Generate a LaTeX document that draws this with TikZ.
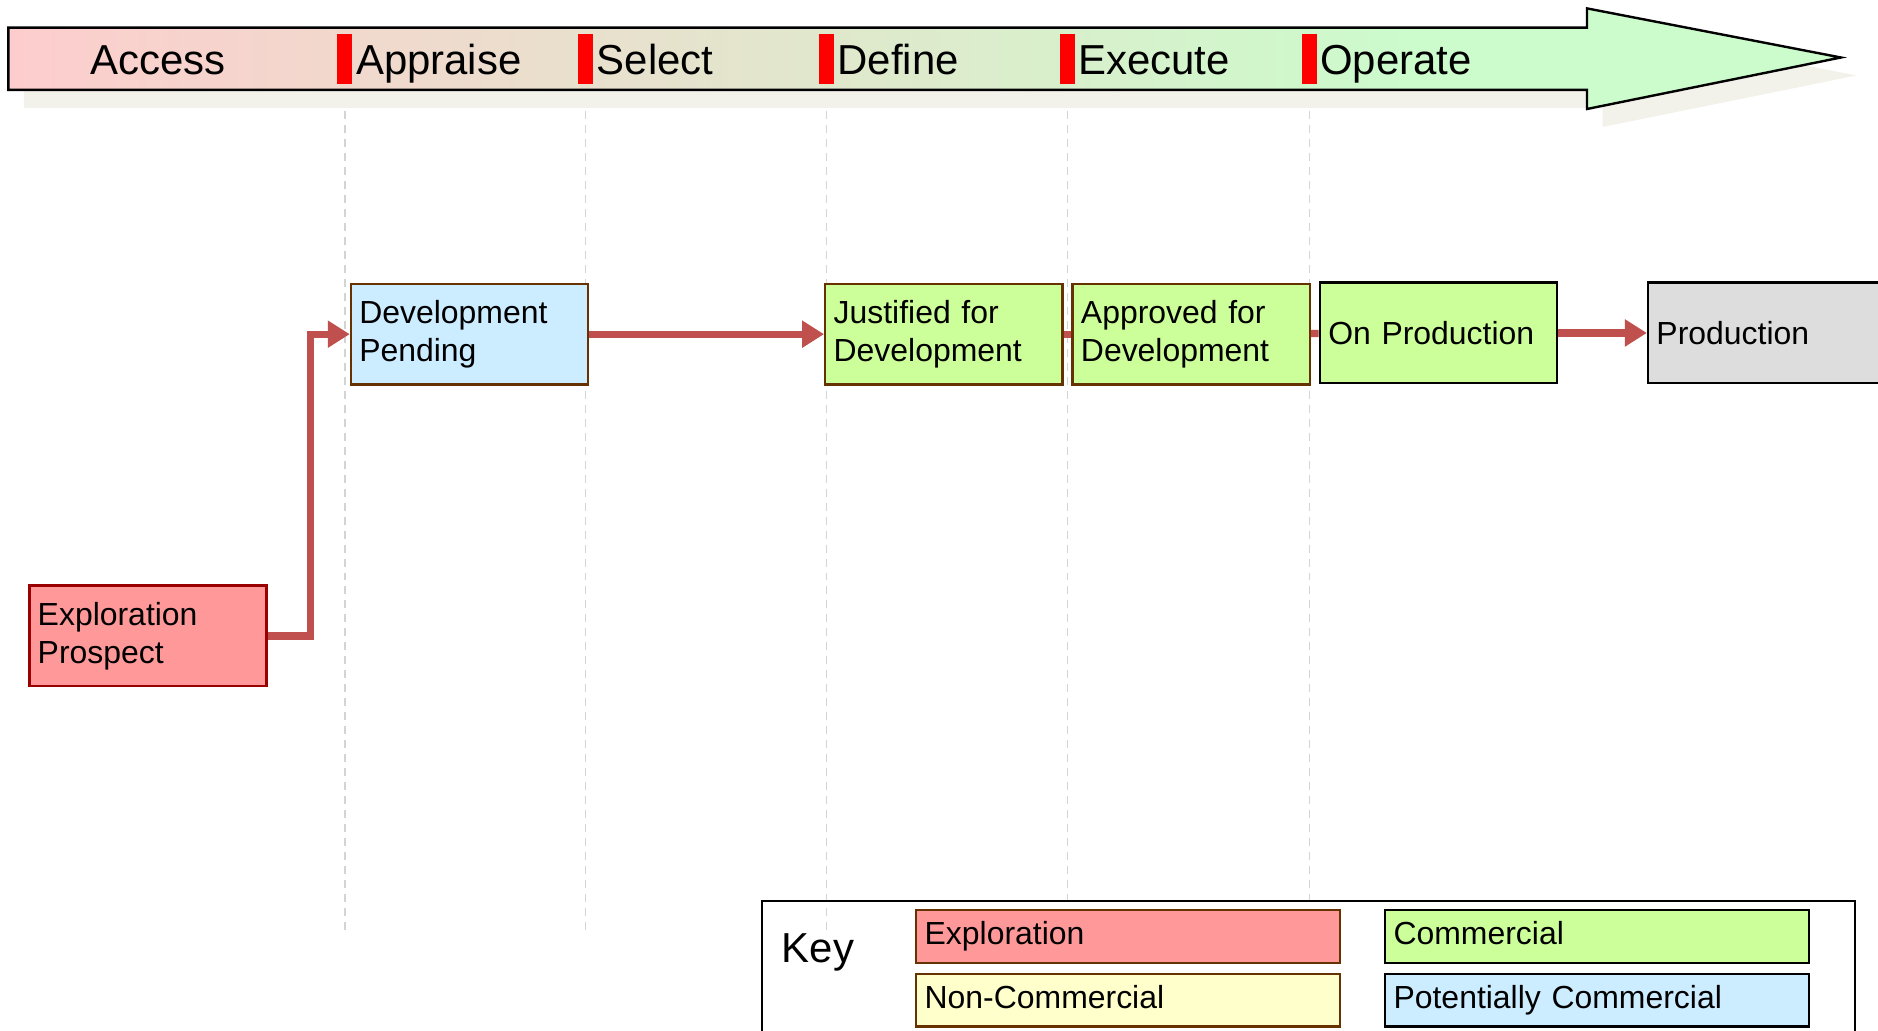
\documentclass[tikz,border=0pt]{standalone}
\usepackage{fontspec}
\setmainfont{Liberation Sans}
\usetikzlibrary{arrows.meta}
\definecolor{exred}{HTML}{FF9999}
\definecolor{exborder}{HTML}{990000}
\definecolor{brownb}{HTML}{663300}
\definecolor{potblue}{HTML}{CCECFF}
\definecolor{comgreen}{HTML}{CCFF99}
\definecolor{noncom}{HTML}{FFFFCC}
\definecolor{prodgrey}{HTML}{DDDDDD}
\definecolor{flowred}{HTML}{C0504D}
\definecolor{phasepink}{HTML}{FDCDCD}
\definecolor{phasegreen}{HTML}{CCFBCC}
\definecolor{shadowgrey}{HTML}{F2F1EA}
\definecolor{gridgrey}{HTML}{D4D4D4}

\begin{document}
\begin{tikzpicture}[x=0.6pt, y=-0.6pt,
  stage/.style={draw=brownb, line width=1.2pt, rectangle, minimum width=118.8pt, minimum height=50.4pt, text width=110.4pt, inner xsep=4.2pt, align=left, font=\fontsize{16}{19.2}\selectfont},
  keybox/.style={stage, minimum width=212.4pt, minimum height=26.4pt, text width=204pt, text height=11.5pt, text depth=3.5pt},
  flow/.style={draw=flowred, line width=3.6pt, -{Triangle[length=11pt,width=13pt]}},
  link/.style={draw=flowred, line width=3.6pt},
  phase/.style={font=\fontsize{21}{25}\selectfont, inner sep=0pt},
  gate/.style={fill=red, minimum width=7.5pt, minimum height=25pt, inner sep=0pt},
  grid/.style={draw=gridgrey, line width=0.6pt, dash pattern=on 4pt off 3pt}]
\clip (0,0) rectangle (1568,860);
\fill[white] (0,0) rectangle (1568,860);
% phase arrow
\fill[shadowgrey] (20,38) -- (1338,38) -- (1338,22) -- (1550,63) -- (1338,106) -- (1338,90) -- (20,90) -- cycle;
\fill[phasegreen] (7,23) -- (1325,23) -- (1325,7) -- (1537,48) -- (1325,91) -- (1325,75) -- (7,75) -- cycle;
\shade[left color=phasepink, right color=phasegreen] (7,23) rectangle (1180,75);
\draw[black, line width=1.2pt] (7,23) -- (1325,23) -- (1325,7) -- (1537,48) -- (1325,91) -- (1325,75) -- (7,75) -- cycle;
\node[phase, anchor=base] (phase0) at (132,62.5) {Access};
\foreach \x/\name/\y [count=\i] in {288/Appraise/778,489/Select/778,690/Define/778,891/Execute/752,1093/Operate/758}{
	\draw[grid] (\x,93) -- (\x,\y);
	\node[gate] (gate\i) at (\x,49) {};
	\node[phase, anchor=base west] (phase\i) at (\x+9,62.5) {\name};
}
% stages
\node[stage, fill=exred, draw=exborder] (ep) at (123.5,531) {Exploration\\Prospect};
\node[stage, fill=potblue] (dp) at (392,279) {Development\\Pending};
\node[stage, fill=comgreen] (jd) at (788,279) {Justified for\\Development};
\node[stage, fill=comgreen] (ad) at (994.5,279) {Approved for\\Development};
\node[stage, fill=comgreen, draw=black] (op) at (1201,278) {On Production};
\node[stage, fill=prodgrey, draw=black] (pr) at (1475,278) {Production};
% connectors
\draw[flow] (ep.east) -- ++(36,0) |- (dp.west);
\draw[flow] (dp) -- (jd);
\draw[link] (jd) -- (ad);
\draw[link] (ad) -- (op);
\draw[flow] (op) -- (pr);
% key
\draw[black, line width=1pt] (636,752) rectangle (1549,890);
\node[phase] (key) at (683,795) {Key};
\node[keybox, fill=exred] (kexp) at (942,782) {Exploration};
\node[keybox, fill=noncom] (knon) at (942,835) {Non-Commercial};
\node[keybox, fill=comgreen, draw=black] (kcom) at (1333.5,782) {Commercial};
\node[keybox, fill=potblue, draw=black] (kpot) at (1333.5,835) {Potentially Commercial};
\end{tikzpicture}
\end{document}
